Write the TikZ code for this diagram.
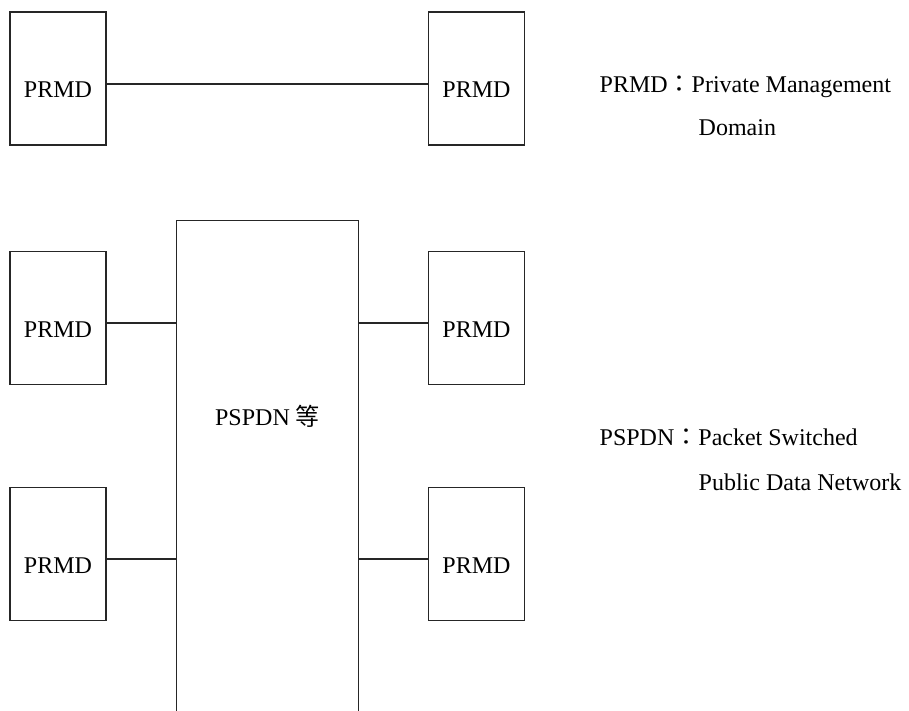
\documentclass[tikz,border=0pt]{standalone}
\usepackage{fontspec}
\setmainfont{Liberation Serif}
\newfontfamily\cjk{Noto Sans CJK TC}
\usetikzlibrary{positioning}

\begin{document}
\begin{tikzpicture}[x=0.5pt,y=-0.5pt,font=\fontsize{12}{14}\selectfont,
  line width=0.7pt,draw=black!85,
  prmd/.style={draw,minimum width=48pt,minimum height=66.5pt,inner sep=0pt,text height=19pt,text depth=0pt},
  net/.style={minimum width=90.5pt,minimum height=245pt,inner sep=0pt},
  legend/.style={anchor=base west,inner sep=0pt}]
\useasboundingbox (0,0) rectangle (909,711);
% PRMD boxes
\node[prmd] (a1) at (58,78.5) {PRMD};
\node[prmd] (b1) at (476.5,78.5) {PRMD};
\node[prmd] (a2) at (58,318) {PRMD};
\node[prmd] (b2) at (476.5,318) {PRMD};
\node[prmd] (a3) at (58,554) {PRMD};
\node[prmd] (b3) at (476.5,554) {PRMD};
% open network box
\node[net] (net) at (267.5,466) {};
\draw (net.south west) |- (net.north east) -- (net.south east);
\node[anchor=base,inner sep=0pt] (netlbl) at (267.5,425) {PSPDN {\cjk 等}};
% links
\draw ([yshift=-2.75pt]a1.east) -- ([yshift=-2.75pt]b1.west);
\draw ([yshift=-2.5pt]a2.east) -- ([yshift=-2.5pt]a2.east -| net.west);
\draw ([yshift=-2.5pt]b2.west) -- ([yshift=-2.5pt]b2.west -| net.east);
\draw ([yshift=-2.5pt]a3.east) -- ([yshift=-2.5pt]a3.east -| net.west);
\draw ([yshift=-2.5pt]b3.west) -- ([yshift=-2.5pt]b3.west -| net.east);
% legend
\node[legend] (lg1) at (599,93) {PRMD{\cjk ：}Private Management};
\node[legend] (lg2) at (698,136) {Domain};
\node[legend] (lg3) at (599,445) {PSPDN{\cjk ：}Packet Switched};
\node[legend] (lg4) at (698,490) {Public Data Network};
\end{tikzpicture}
\end{document}
